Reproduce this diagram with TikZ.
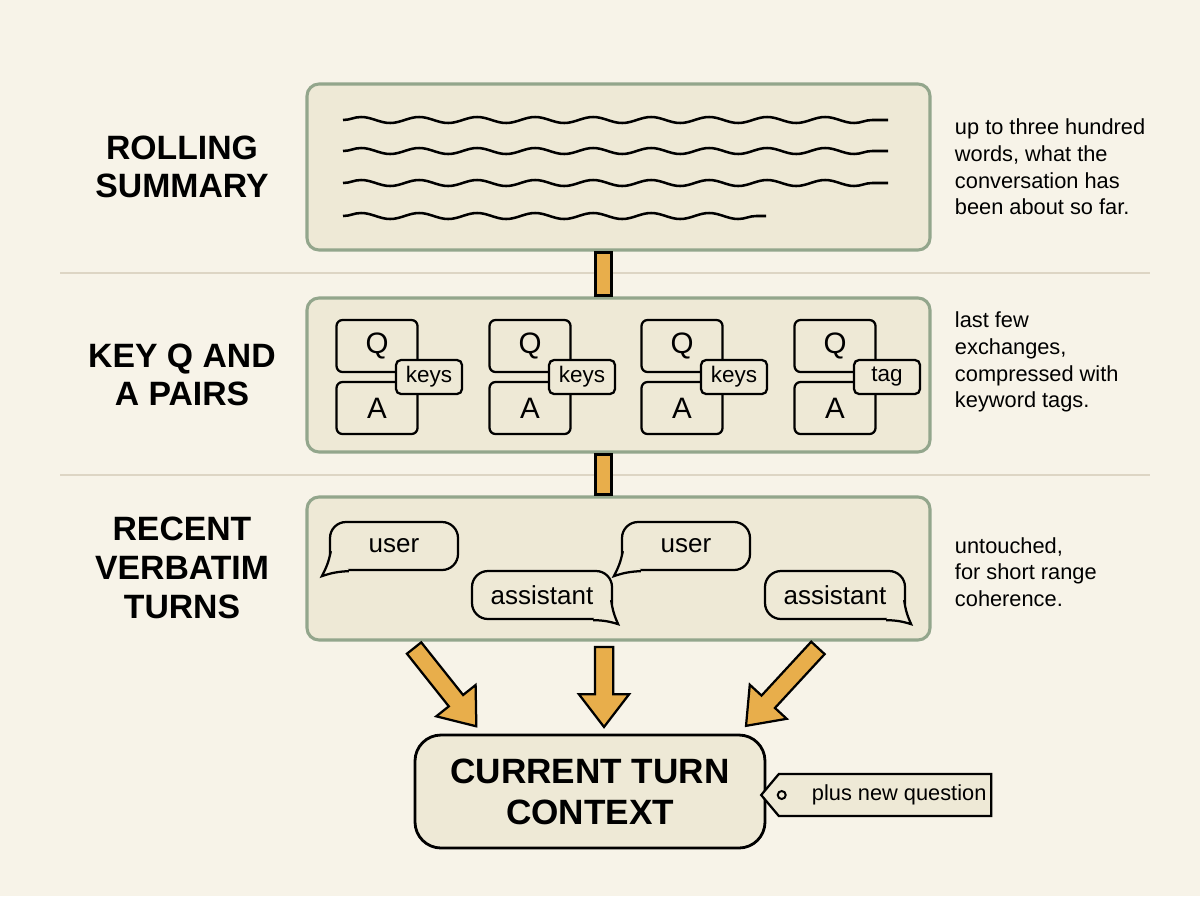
\documentclass[tikz,border=0pt]{standalone}
\usepackage{fontspec}
\setmainfont{Liberation Sans}
\usetikzlibrary{shapes.arrows,shapes.symbols,decorations.pathmorphing,calc}
\definecolor{bgcol}{HTML}{F7F3E8}
\definecolor{panelcol}{HTML}{EEE9D6}
\definecolor{edgecol}{HTML}{93A68C}
\definecolor{flowcol}{HTML}{E8AE4B}
\definecolor{rulecol}{HTML}{DDD5C4}
\newcommand{\pu}{0.025cm}
\tikzset{
  panel/.style={draw=edgecol, line width=2.2pt, fill=panelcol, rounded corners=12*\pu,
    minimum width=623*\pu, inner sep=0},
  title/.style={font=\fontsize{24}{27.5}\selectfont\bfseries, align=center},
  note/.style={font=\fontsize{15.5}{19}\selectfont, align=left, anchor=west},
  qbox/.style={draw, line width=1.6pt, fill=panelcol, rounded corners=6*\pu,
    minimum width=81*\pu, minimum height=52*\pu, font=\fontsize{21}{21}\selectfont},
  keytag/.style={draw, line width=1.6pt, fill=panelcol, rounded corners=5*\pu,
    minimum width=66*\pu, minimum height=34*\pu, inner sep=0, font=\fontsize{16}{16}\selectfont},
  bubble/.style={draw, line width=1.6pt, fill=panelcol, rounded corners=16*\pu,
    minimum height=48*\pu, inner sep=0, font=\fontsize{18.5}{18.5}\selectfont},
  flow/.style={single arrow, draw, line width=1.6pt, fill=flowcol, inner xsep=0, inner ysep=8*\pu,
    minimum width=48*\pu, single arrow head extend=16*\pu, single arrow tip angle=75},
  wave/.style={line width=1.8pt, decorate, decoration={snake, amplitude=3*\pu, segment length=58*\pu}}
}
\begin{document}
\begin{tikzpicture}[x=\pu, y=-\pu]
  \fill[bgcol] (0,0) rectangle (1200,896);
  \useasboundingbox (0,0) rectangle (1200,896);
  \draw[rulecol, line width=1pt] (60,273) -- (1150,273);
  \draw[rulecol, line width=1pt] (60,475) -- (1150,475);

  % panels
  \node[panel, minimum height=166*\pu] (sum) at (618.5,167) {};
  \node[panel, minimum height=154*\pu] (pairs) at (618.5,375) {};
  \node[panel, minimum height=143*\pu] (turns) at (618.5,568.5) {};

  % link bars
  \draw[line width=1.6pt, fill=flowcol] ($(sum.south)+(-23,1)$) rectangle ($(pairs.north)+(-7,-1)$);
  \draw[line width=1.6pt, fill=flowcol] ($(pairs.south)+(-23,1)$) rectangle ($(turns.north)+(-7,-1)$);

  % titles and notes
  \node[title] (sumtitle) at (182,167) {ROLLING\\SUMMARY};
  \node[title] (pairstitle) at (182,375) {KEY Q AND\\A PAIRS};
  \node[title] (turnstitle) at (182,568) {RECENT\\VERBATIM\\TURNS};
  \node[note] (sumnote) at (950,167) {up to three hundred\\words, what the\\conversation has\\been about so far.};
  \node[note] (pairsnote) at (950,362) {last few\\exchanges,\\compressed with\\keyword tags.};
  \node[note] (turnsnote) at (950,572) {untouched,\\for short range\\coherence.};

  % summary lines
  \draw[wave] (343,120) -- (888,120);
  \draw[wave] (343,151) -- (888,151);
  \draw[wave] (343,183) -- (888,183);
  \draw[wave] (343,216) -- (766,216);

  % Q and A pairs
  \foreach \i/\dx/\lab in {1/0/keys, 2/153/keys, 3/305/keys, 4/458/tag} {
    \node[qbox] (q\i) at (377+\dx,346) {Q};
    \node[qbox] (a\i) at (377+\dx,408) {A};
    \node[keytag] (k\i) at (429+\dx,377) {\lab};
  }

  % turns
  \node[bubble, minimum width=128*\pu] (u1) at (394,546) {user};
  \node[bubble, minimum width=140*\pu] (as1) at (542,595) {assistant};
  \node[bubble, minimum width=128*\pu] (u2) at (686,546) {user};
  \node[bubble, minimum width=140*\pu] (as2) at (835,595) {assistant};
  \foreach \b in {u1,u2} {
    \fill[panelcol] ($(\b.south west)+(2,-20)$) -- ($(\b.south west)+(-7,5)$) -- ($(\b.south west)+(20,-1)$) -- cycle;
    \draw[line width=1.6pt] ($(\b.south west)+(2,-20)$) to[bend left=8] ($(\b.south west)+(-7,5)$) to[bend left=8] ($(\b.south west)+(20,0)$);
  }
  \foreach \b in {as1,as2} {
    \fill[panelcol] ($(\b.south east)+(-2,-20)$) -- ($(\b.south east)+(5,4)$) -- ($(\b.south east)+(-20,-1)$) -- cycle;
    \draw[line width=1.6pt] ($(\b.south east)+(-2,-20)$) to[bend right=8] ($(\b.south east)+(5,4)$) to[bend right=8] ($(\b.south east)+(-20,0)$);
  }

  % current turn
  \node[draw, line width=2pt, fill=panelcol, rounded corners=26*\pu, minimum width=350*\pu,
    minimum height=113*\pu, font=\fontsize{25}{29}\selectfont\bfseries, align=center]
    (ctx) at (590,791.5) {CURRENT TURN\\CONTEXT};
  \node[draw, line width=1.6pt, fill=panelcol, signal, signal to=west, signal pointer angle=100,
    minimum width=230*\pu, minimum height=42*\pu, inner sep=0, font=\fontsize{15.5}{15.5}\selectfont]
    (extra) at (885,795) {\hspace{1.3em}plus new question};
  \draw[line width=1.4pt] ($(extra.west)+(22,0)$) circle (4);

  % flows into current turn
  \node[flow, minimum height=100*\pu, rotate=-51.5] (f1) at ($(410,643)!0.5!(473,722)$) {};
  \node[flow, minimum height=80*\pu, rotate=-90] (f2) at (604,681) {};
  \node[flow, minimum height=106*\pu, rotate=-132.7] (f3) at ($(822,643)!0.5!(750,722)$) {};
\end{tikzpicture}
\end{document}
